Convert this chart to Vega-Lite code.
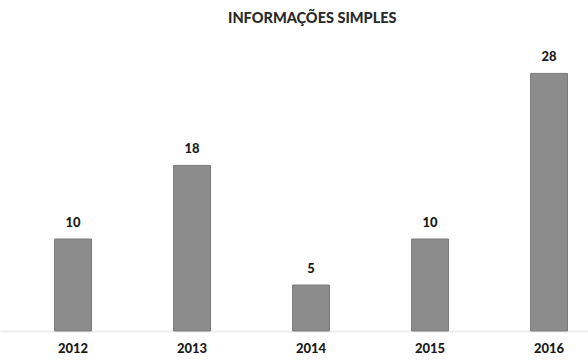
{
  "$schema": "https://vega.github.io/schema/vega-lite/v6.json",
  "width": 588,
  "height": 276,
  "autosize": {"type": "none"},
  "padding": {"left": 0, "right": 0, "top": 55, "bottom": 31},
  "background": "white",
  "title": {
    "text": "INFORMAÇÕES SIMPLES",
    "font": "Lato",
    "fontSize": 14.5,
    "fontWeight": 900,
    "color": "#2a2a2a",
    "anchor": "start",
    "dx": 228,
    "offset": 25
  },
  "data": {
    "values": [
      {"ano": "2012", "valor": 10},
      {"ano": "2013", "valor": 18},
      {"ano": "2014", "valor": 5},
      {"ano": "2015", "valor": 10},
      {"ano": "2016", "valor": 28}
    ]
  },
  "encoding": {
    "x": {
      "field": "ano",
      "type": "nominal",
      "sort": null,
      "scale": {"paddingInner": 0.69, "paddingOuter": 0.3155, "align": 0.727},
      "axis": {
        "title": null,
        "ticks": false,
        "domainColor": "#eeeeee",
        "domainWidth": 2,
        "labelAngle": 0,
        "labelFont": "Lato",
        "labelFontSize": 13,
        "labelFontWeight": 900,
        "labelColor": "#1a1a1a",
        "labelPadding": 11
      }
    },
    "y": {
      "field": "valor",
      "type": "quantitative",
      "scale": {"domain": [0, 30]},
      "axis": null
    }
  },
  "layer": [
    {
      "mark": {"type": "bar", "color": "#8c8c8c", "stroke": "#7a7a7a", "strokeWidth": 1}
    },
    {
      "mark": {"type": "text", "dy": -16, "font": "Lato", "fontSize": 13, "fontWeight": 900, "color": "#1a1a1a"},
      "encoding": {"text": {"field": "valor", "type": "quantitative"}}
    }
  ],
  "config": {"view": {"stroke": null}}
}
